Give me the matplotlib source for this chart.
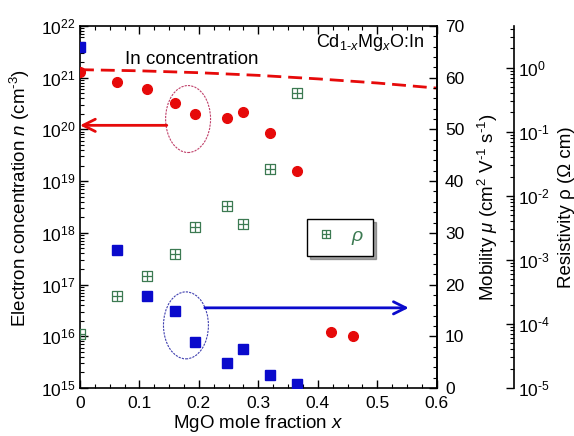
import matplotlib
matplotlib.use('Agg')
import matplotlib.pyplot as plt
import numpy as np
from matplotlib.path import Path
from matplotlib.patches import Ellipse
from matplotlib.ticker import MultipleLocator, LogLocator, NullFormatter, FuncFormatter

plt.rcParams['font.family'] = ['Liberation Sans', 'DejaVu Sans']
plt.rcParams['mathtext.fontset'] = 'custom'
plt.rcParams['mathtext.rm'] = 'Liberation Sans'
plt.rcParams['mathtext.it'] = 'Liberation Sans:italic'
plt.rcParams['mathtext.bf'] = 'Liberation Sans:bold'

# MgO mole fraction of the samples
x_mgo = [0.0, 0.063, 0.113, 0.160, 0.193, 0.248, 0.274, 0.319, 0.365]
x_mgo_n = x_mgo + [0.422, 0.459]
# electron concentration n (cm^-3)
n_elec = [1.29e21, 8.3e20, 6.0e20, 3.2e20, 2.0e20, 1.7e20, 2.15e20, 8.5e19, 1.55e19, 1.2e16, 1.0e16]
# mobility (cm2/Vs)
mobility = [65.9, 26.7, 17.8, 14.9, 8.8, 4.8, 7.6, 2.6, 0.8]
# resistivity (Ohm cm)
rho = [7.0e-5, 2.7e-4, 5.6e-4, 1.23e-3, 3.2e-3, 6.9e-3, 3.6e-3, 2.6e-2, 0.40]
# In concentration (dashed line)
x_in = [0.0, 0.1, 0.2, 0.3, 0.4, 0.5, 0.6]
n_in = [1.43e21, 1.36e21, 1.25e21, 1.11e21, 0.95e21, 0.79e21, 0.63e21]

x_ticks = [0, 0.1, 0.2, 0.3, 0.4, 0.5, 0.6]
x_ticklabels = ['0', '0.1', '0.2', '0.3', '0.4', '0.5', '0.6']

red = '#e60a0a'
blue = '#0a0acc'
green = '#3c7a52'


def pow10(v, pos):
    e = int(round(np.log10(v)))
    s = str(e).replace('-', r'\text{-}')
    return r'$\mathdefault{10^{%s}}$' % s


boxplus = Path([(-1, -1), (1, -1), (1, 1), (-1, 1), (-1, -1), (-1, 0), (1, 0), (0, -1), (0, 1)],
               [Path.MOVETO, Path.LINETO, Path.LINETO, Path.LINETO, Path.CLOSEPOLY,
                Path.MOVETO, Path.LINETO, Path.MOVETO, Path.LINETO])

fig = plt.figure(figsize=(5.74, 4.36), dpi=100)
ax = fig.add_axes([80 / 574, 48 / 436, 356.7 / 574, 362 / 436])

ax.set_yscale('log')
ax.set_xlim(0, 0.6)
ax.set_ylim(1e15, 1e22)
ax.plot(x_in, n_in, color=red, lw=2, dashes=(5, 2.5))
ax.plot(x_mgo_n, n_elec, 'o', color=red, ms=7, mec=red, zorder=5)
ax.set_xticks(x_ticks)
ax.set_xticklabels(x_ticklabels)
ax.xaxis.set_minor_locator(MultipleLocator(0.025))
ax.yaxis.set_major_locator(LogLocator(base=10, numticks=20))
ax.yaxis.set_minor_locator(LogLocator(base=10, subs=np.arange(2, 10), numticks=20))
ax.yaxis.set_major_formatter(FuncFormatter(pow10))
ax.yaxis.set_minor_formatter(NullFormatter())
ax.tick_params(which='both', direction='in', top=True, right=False, labelsize=12.5)
ax.tick_params(which='major', length=6, width=1)
ax.tick_params(which='minor', length=3, width=0.8)
ax.tick_params(axis='y', pad=3)
ax.tick_params(axis='x', pad=6)
ax.set_xlabel('MgO mole fraction $x$', fontsize=13.5, labelpad=1)
ax.set_ylabel(r'Electron concentration $n$ (cm$^{\text{-}3}$)', fontsize=13.5)
ax.yaxis.set_label_coords(-0.135, 0.525)
for s in ax.spines.values():
    s.set_linewidth(1.2)

ax.text(0.188, 2.3e21, 'In concentration', fontsize=13.5, ha='center', va='center')
ax.text(0.964, 0.941, r'Cd$_{1\text{-}x}$Mg$_x$O:In', fontsize=13, ha='right',
        va='baseline', transform=ax.transAxes)

ax.add_patch(Ellipse((0.303, 0.743), 0.126, 0.185, transform=ax.transAxes, fill=False,
                     ec='#c0406a', lw=0.8, ls=(0, (2, 1))))
ax.add_patch(Ellipse((0.297, 0.173), 0.126, 0.185, transform=ax.transAxes, fill=False,
                     ec='#4040b0', lw=0.8, ls=(0, (2, 1))))
ax.annotate('', xy=(0.0, 1.2e20), xytext=(0.146, 1.2e20),
            arrowprops=dict(arrowstyle='->', color=red, lw=2, mutation_scale=22,
                            shrinkA=0, shrinkB=0))

# mobility axis
ax2 = ax.twinx()
ax2.set_ylim(0, 70)
ax2.plot(x_mgo, mobility, 's', color=blue, ms=7.5, zorder=5)
ax2.yaxis.set_major_locator(MultipleLocator(10))
ax2.yaxis.set_minor_locator(MultipleLocator(2))
ax2.tick_params(which='both', direction='in', labelsize=12.5, pad=6)
ax2.tick_params(which='major', length=6, width=1)
ax2.tick_params(which='minor', length=3, width=0.8)
ax2.set_ylabel(r'Mobility $\mu$ (cm$^2$ V$^{\text{-}1}$ s$^{\text{-}1}$)', fontsize=13.5, labelpad=8)
for k in ['left', 'top', 'bottom']:
    ax2.spines[k].set_visible(False)
ax2.spines['right'].set_linewidth(1.2)
ax2.annotate('', xy=(0.553, 15.5), xytext=(0.21, 15.5),
             arrowprops=dict(arrowstyle='->', color=blue, lw=2, mutation_scale=22,
                             shrinkA=0, shrinkB=0))

# resistivity axis
ax3 = ax.twinx()
ax3.set_yscale('log')
ax3.set_ylim(1e-5, 10 ** 0.65)
ax3.spines['right'].set_position(('outward', 55.4))
for k in ['left', 'top', 'bottom']:
    ax3.spines[k].set_visible(False)
ax3.spines['right'].set_linewidth(1.2)
line_rho, = ax3.plot(x_mgo, rho, ls='none', marker=boxplus, ms=7, mfc='none', mec=green,
                     mew=0.9, label=r'$\rho$', zorder=5)
ax3.yaxis.set_major_locator(LogLocator(base=10, numticks=20))
ax3.yaxis.set_minor_locator(LogLocator(base=10, subs=np.arange(2, 10), numticks=20))
ax3.yaxis.set_major_formatter(FuncFormatter(pow10))
ax3.yaxis.set_minor_formatter(NullFormatter())
ax3.tick_params(which='both', direction='in', labelsize=12.5, pad=3)
ax3.tick_params(which='major', length=6, width=1)
ax3.tick_params(which='minor', length=3, width=0.8)
ax3.set_ylabel('Resistivity ρ (Ω cm)', fontsize=13.5, labelpad=6)

leg = ax3.legend(handles=[line_rho], loc='center', bbox_to_anchor=(0.729, 0.416),
                 fontsize=14, frameon=True, fancybox=False, shadow=True, framealpha=1,
                 edgecolor='black', handlelength=1.0, borderpad=0.45, handletextpad=0.8,
                 borderaxespad=0, markerscale=0.75)
leg.get_texts()[0].set_color(green)
leg.get_frame().set_linewidth(1.0)

fig.savefig('out.png', dpi=100)
